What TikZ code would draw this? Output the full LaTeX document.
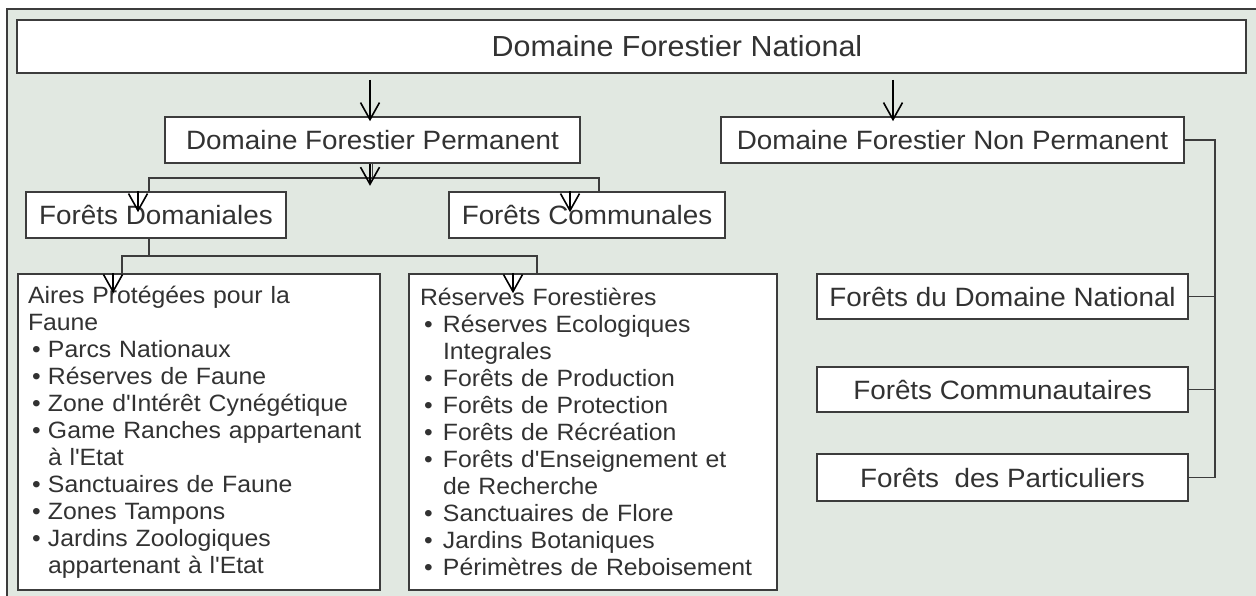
\documentclass[tikz,border=0pt]{standalone}
\usepackage{fontspec}
\setmainfont[FakeStretch=1.05]{Liberation Sans}
\usetikzlibrary{arrows.meta}
\definecolor{fond}{RGB}{225,232,225}
\definecolor{trait}{RGB}{60,60,60}
\definecolor{texte}{RGB}{50,50,50}
\tikzset{boite/.style={draw=trait,line width=1.6pt,fill=white,text=texte,inner sep=0pt,font=\fontsize{26.5}{31}\selectfont},
         liste/.style={boite,align=left,inner xsep=10pt,font=\fontsize{23.6}{27}\selectfont},
         liaison/.style={draw=trait,line width=1.4pt},
         fleche/.style={black,line width=1.6pt,-{Straight Barb[length=17pt,width=19pt,line width=1.6pt]}}}
\newcommand{\puce}[1][20pt]{\makebox[#1][l]{\hspace{4pt}•}}
\newcommand{\apo}{\textquotesingle}
\begin{document}
\begin{tikzpicture}[x=1pt,y=-1pt]
\useasboundingbox (0,0) rectangle (1256,596);
\clip (0,0) rectangle (1256,596);
\draw[fill=fond,draw=trait,line width=1.5pt] (7,9) rectangle (1280,620);
\node[boite,minimum width=1229pt,minimum height=53pt] (nat) at (631.5,46.5) {};
\node[text=texte,font=\fontsize{29}{34}\selectfont] (titre) at (677,46.5) {Domaine Forestier National};
\node[boite,minimum width=415pt,minimum height=46pt] (dfp) at (372.5,140) {Domaine Forestier Permanent};
\node[boite,minimum width=463pt,minimum height=46pt] (dfnp) at (952.5,140) {Domaine Forestier Non Permanent};
\node[boite,minimum width=260pt,minimum height=46pt] (fd) at (156,215) {Forêts Domaniales};
\node[boite,minimum width=276pt,minimum height=46pt] (fc) at (587,215) {Forêts Communales};
\node[boite,minimum width=371pt,minimum height=45pt] (fdn) at (1002.5,296.5) {Forêts du Domaine National};
\node[boite,minimum width=371pt,minimum height=45pt] (fco) at (1002.5,389.5) {Forêts Communautaires};
\node[boite,minimum width=371pt,minimum height=47pt] (fpa) at (1002.5,477.5) {Forêts~ des Particuliers};
\node[liste,text width=342pt,minimum height=316pt] (apf) at (199,432) {Aires Protégées pour la\\
Faune\\
\puce Parcs Nationaux\\
\puce Réserves de Faune\\
\puce Zone d\apo Intérêt Cynégétique\\
\puce Game Ranches appartenant\\
\hspace*{20pt}à l\apo Etat\\
\puce Sanctuaires de Faune\\
\puce Zones Tampons\\
\puce Jardins Zoologiques\\
\hspace*{20pt}appartenant à l\apo Etat};
\node[liste,inner xsep=11pt,text width=346pt,minimum height=316pt] (rfo) at (593,432) {Réserves Forestières\\
\puce[23pt]Réserves Ecologiques\\
\hspace*{23pt}Integrales\\
\puce[23pt]Forêts de Production\\
\puce[23pt]Forêts de Protection\\
\puce[23pt]Forêts de Récréation\\
\puce[23pt]Forêts d\apo Enseignement et\\
\hspace*{23pt}de Recherche\\
\puce[23pt]Sanctuaires de Flore\\
\puce[23pt]Jardins Botaniques\\
\puce[23pt]Périmètres de Reboisement};
\coordinate (dr) at (1215,140);
\coordinate (j1) at (372.5,178);
\coordinate (j2) at (149,256);
\coordinate (p1) at (370,80);
\coordinate (p2) at (893,80);
\draw[liaison] (dfnp.east) -- (dr) -- (dr |- fpa.east) -- (fpa.east);
\draw[liaison] (fdn.east) -- (dr |- fdn.east);
\draw[liaison] (fco.east) -- (dr |- fco.east);
\draw[liaison] (dfp.south) -- (j1);
\draw[liaison] ([xshift=-7pt]fd.north) |- (j1) -| ([xshift=12pt]fc.north);
\draw[liaison] ([xshift=-7pt]fd.south) -- (j2);
\draw[liaison] ([xshift=-77pt]apf.north) |- (j2) -| ([xshift=-56pt]rfo.north);
\draw[fleche] (p1) -- ([yshift=-5pt]p1 |- dfp.north);
\draw[fleche] (p2) -- ([yshift=-5pt]p2 |- dfnp.north);
\draw[fleche] ([xshift=-2.5pt]dfp.south) -- ++(0,22);
\draw[fleche] ([xshift=-18pt]fd.north) -- ++(0,21);
\draw[fleche] ([xshift=-17pt]fc.north) -- ++(0,21);
\draw[fleche] ([xshift=-86pt]apf.north) -- ++(0,20);
\draw[fleche] ([xshift=-80pt]rfo.north) -- ++(0,20);
\end{tikzpicture}
\end{document}
